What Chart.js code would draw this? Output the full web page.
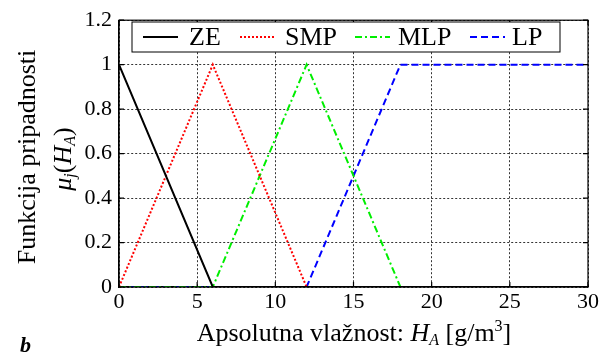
<!DOCTYPE html>
<html>
<head>
<meta charset="utf-8">
<script src="https://cdn.jsdelivr.net/npm/chart.js@4"></script>
<style>
  html, body { margin: 0; padding: 0; background: #fff; }
  canvas { display: block; }
</style>
</head>
<body>
<canvas id="chart" width="610" height="360"></canvas>
<script>
// breakpoints of the membership functions (HA, g/m3)
const xKnots = [0, 6, 12, 18, 30];
const seriesNames = ['ZE', 'SMP', 'MLP', 'LP'];
const zeValues  = [1, 0, 0, 0, 0];
const smpValues = [0, 1, 0, 0, 0];
const mlpValues = [0, 0, 1, 0, 0];
const lpValues  = [0, 0, 0, 1, 1];
const xTicks = [0, 5, 10, 15, 20, 25, 30];
const yTicks = [0, 0.2, 0.4, 0.6, 0.8, 1, 1.2];

const SERIF = '"Liberation Serif", "Times New Roman", serif';

function toPoints(values) {
    return values.map((v, i) => ({ x: xKnots[i], y: v }));
}

const styles = [
    { color: '#000000', dash: [] },
    { color: '#ff0000', dash: [2, 2] },
    { color: '#00ee00', dash: [7, 3, 2, 3] },
    { color: '#0000ff', dash: [7, 4] }
];
const allValues = [zeValues, smpValues, mlpValues, lpValues];

const datasets = seriesNames.map((name, i) => ({
    label: name,
    data: toPoints(allValues[i]),
    borderColor: styles[i].color,
    borderDash: styles[i].dash,
    borderWidth: 2,
    pointRadius: 0,
    tension: 0,
    fill: false
}));

// draws a list of text runs, each with its own style / offset
function drawRuns(ctx, runs, x, y, align) {
    let total = 0;
    runs.forEach(r => {
        ctx.font = (r.font || '') + ' ' + r.size + 'px ' + SERIF;
        r.w = ctx.measureText(r.text).width;
        total += r.w;
    });
    let cx = align === 'center' ? x - total / 2 : x;
    runs.forEach(r => {
        ctx.font = (r.font || '') + ' ' + r.size + 'px ' + SERIF;
        ctx.fillText(r.text, cx, y + (r.dy || 0));
        cx += r.w;
    });
}

const decorPlugin = {
    id: 'decor',
    afterDraw(chart) {
        const ctx = chart.ctx;
        const a = chart.chartArea;
        const xs = chart.scales.x, ys = chart.scales.y;
        ctx.save();
        ctx.strokeStyle = '#000';
        ctx.lineWidth = 1.2;
        ctx.strokeRect(a.left, a.top, a.right - a.left, a.bottom - a.top);
        // inward tick marks
        ctx.beginPath();
        xTicks.forEach(t => {
            const px = xs.getPixelForValue(t);
            ctx.moveTo(px, a.top); ctx.lineTo(px, a.top + 5);
            ctx.moveTo(px, a.bottom); ctx.lineTo(px, a.bottom - 5);
        });
        yTicks.forEach(t => {
            const py = ys.getPixelForValue(t);
            ctx.moveTo(a.left, py); ctx.lineTo(a.left + 5, py);
            ctx.moveTo(a.right, py); ctx.lineTo(a.right - 5, py);
        });
        ctx.stroke();

        // legend box
        const lx = 132, ly = 22, lw = 428, lh = 30;
        ctx.fillStyle = '#fff';
        ctx.fillRect(lx, ly, lw, lh);
        ctx.lineWidth = 1;
        ctx.strokeRect(lx, ly, lw, lh);
        const lineX = [143, 240, 355, 470];
        const textX = [189, 285, 398, 512];
        ctx.textBaseline = 'middle';
        ctx.textAlign = 'left';
        seriesNames.forEach((name, i) => {
            const ey = ly + lh / 2;
            ctx.strokeStyle = styles[i].color;
            ctx.setLineDash(styles[i].dash);
            ctx.lineWidth = 2;
            ctx.beginPath();
            ctx.moveTo(lineX[i], ey); ctx.lineTo(lineX[i] + 35, ey);
            ctx.stroke();
            ctx.setLineDash([]);
            ctx.fillStyle = '#000';
            ctx.font = '26px ' + SERIF;
            ctx.fillText(name, textX[i], ey + 1);
        });

        // axis titles
        ctx.fillStyle = '#000';
        ctx.textBaseline = 'alphabetic';
        ctx.textAlign = 'left';
        drawRuns(ctx, [
            { text: 'Apsolutna vlažnost: ', size: 26 },
            { text: 'H', size: 26, font: 'italic' },
            { text: 'A', size: 16, font: 'italic', dy: 4 },
            { text: ' [g/m', size: 26 },
            { text: '3', size: 16, dy: -10 },
            { text: ']', size: 26 }
        ], 354, 341, 'center');

        ctx.save();
        ctx.translate(35, 157);
        ctx.rotate(-Math.PI / 2);
        drawRuns(ctx, [{ text: 'Funkcija pripadnosti', size: 26 }], 0, 0, 'center');
        ctx.restore();

        ctx.save();
        ctx.translate(71, 159);
        ctx.rotate(-Math.PI / 2);
        drawRuns(ctx, [
            { text: 'μ', size: 26, font: 'italic' },
            { text: 'j', size: 16, font: 'italic', dy: 4 },
            { text: '(', size: 26 },
            { text: 'H', size: 26, font: 'italic' },
            { text: 'A', size: 16, font: 'italic', dy: 4 },
            { text: ')', size: 26 }
        ], 0, 0, 'center');
        ctx.restore();

        ctx.font = 'bold italic 22px ' + SERIF;
        ctx.fillText('b', 20, 352);
        ctx.restore();
    }
};

new Chart(document.getElementById('chart'), {
    type: 'line',
    data: { datasets: datasets },
    options: {
        responsive: false,
        animation: false,
        devicePixelRatio: 1,
        layout: { padding: { top: 15, right: 22, left: 0, bottom: 0 } },
        plugins: {
            legend: { display: false },
            tooltip: { enabled: false }
        },
        scales: {
            x: {
                type: 'linear',
                min: 0,
                max: 30,
                afterBuildTicks: scale => { scale.ticks = xTicks.map(v => ({ value: v })); },
                afterFit: scale => { scale.height = 73; },
                ticks: {
                    color: '#000',
                    font: { family: SERIF, size: 22 },
                    padding: 2,
                    maxRotation: 0,
                    callback: v => String(v)
                },
                grid: { color: '#000', lineWidth: 0.8, drawTicks: false },
                border: { color: '#000', width: 1.2, dash: [2, 2] }
            },
            y: {
                min: 0,
                max: 1.2,
                afterBuildTicks: scale => { scale.ticks = yTicks.map(v => ({ value: v })); },
                afterFit: scale => { scale.width = 119; },
                ticks: {
                    color: '#000',
                    font: { family: SERIF, size: 22 },
                    padding: 7,
                    callback: v => String(v)
                },
                grid: { color: '#000', lineWidth: 0.8, drawTicks: false },
                border: { color: '#000', width: 1.2, dash: [2, 2] }
            }
        }
    },
    plugins: [decorPlugin]
});
</script>
</body>
</html>
